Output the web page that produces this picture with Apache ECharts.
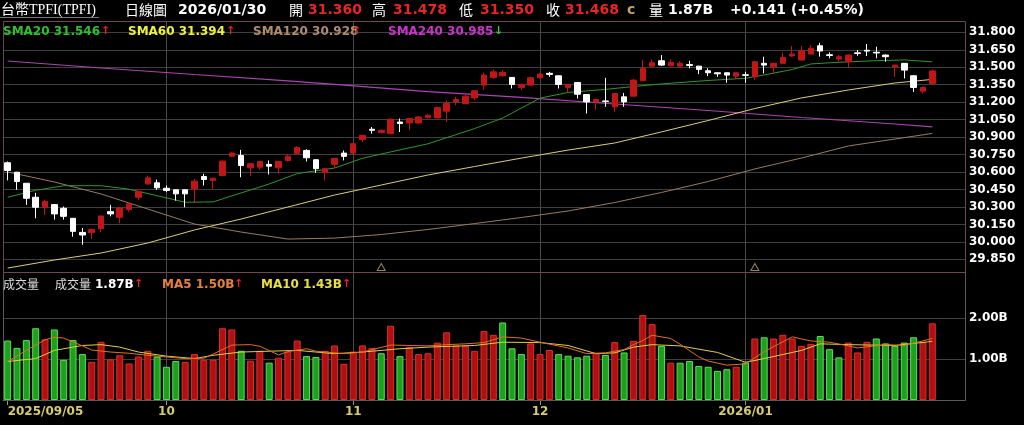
<!DOCTYPE html>
<html><head><meta charset="utf-8">
<script src="https://cdn.jsdelivr.net/npm/echarts@6/dist/echarts.min.js"></script>
<style>html,body{margin:0;padding:0;background:#000;}#c{width:1024px;height:425px;}</style>
</head><body><div id="c"></div>
<script>
const categories = [
'2025/09/05','2025/09/08','2025/09/09','2025/09/10','2025/09/11','2025/09/12','2025/09/15','2025/09/16','2025/09/17','2025/09/18',
'2025/09/19','2025/09/22','2025/09/23','2025/09/24','2025/09/25','2025/09/26','2025/09/30','2025/10/01','2025/10/02','2025/10/03',
'2025/10/07','2025/10/08','2025/10/09','2025/10/13','2025/10/14','2025/10/15','2025/10/16','2025/10/17','2025/10/20','2025/10/21',
'2025/10/22','2025/10/23','2025/10/27','2025/10/28','2025/10/29','2025/10/30','2025/10/31','2025/11/03','2025/11/04','2025/11/05',
'2025/11/06','2025/11/07','2025/11/10','2025/11/11','2025/11/12','2025/11/13','2025/11/14','2025/11/17','2025/11/18','2025/11/19',
'2025/11/20','2025/11/21','2025/11/24','2025/11/25','2025/11/26','2025/11/27','2025/11/28','2025/12/01','2025/12/02','2025/12/03',
'2025/12/04','2025/12/05','2025/12/08','2025/12/09','2025/12/10','2025/12/11','2025/12/12','2025/12/15','2025/12/16','2025/12/17',
'2025/12/18','2025/12/19','2025/12/22','2025/12/23','2025/12/24','2025/12/26','2025/12/29','2025/12/30','2025/12/31','2026/01/02',
'2026/01/05','2026/01/06','2026/01/07','2026/01/08','2026/01/09','2026/01/12','2026/01/13','2026/01/14','2026/01/15','2026/01/16',
'2026/01/19','2026/01/20','2026/01/21','2026/01/22','2026/01/23','2026/01/26','2026/01/27','2026/01/28','2026/01/29','2026/01/30'];

const open = [
30.679,30.598,30.503,30.383,30.297,30.320,30.288,30.202,30.081,30.079,
30.113,30.259,30.211,30.277,30.383,30.498,30.507,30.460,30.447,30.447,
30.455,30.561,30.527,30.570,30.736,30.742,30.636,30.641,30.665,30.636,
30.699,30.760,30.785,30.705,30.598,30.665,30.762,30.762,30.878,30.967,
30.938,30.929,31.029,31.021,31.021,31.067,31.064,31.122,31.202,31.188,
31.236,31.346,31.412,31.426,31.412,31.326,31.346,31.409,31.447,31.426,
31.326,31.369,31.265,31.202,31.210,31.159,31.245,31.251,31.383,31.509,
31.555,31.512,31.509,31.522,31.509,31.469,31.452,31.452,31.423,31.435,
31.417,31.533,31.503,31.533,31.596,31.561,31.613,31.684,31.607,31.570,
31.547,31.623,31.645,31.628,31.604,31.503,31.533,31.426,31.294,31.360];
const close = [
30.613,30.518,30.374,30.297,30.346,30.240,30.219,30.090,30.059,30.107,
30.222,30.240,30.291,30.326,30.434,30.550,30.464,30.441,30.412,30.412,
30.521,30.535,30.547,30.693,30.762,30.656,30.671,30.690,30.650,30.690,
30.736,30.811,30.722,30.628,30.628,30.716,30.734,30.843,30.915,30.958,
30.958,31.053,31.016,31.059,31.072,31.087,31.153,31.188,31.222,31.251,
31.297,31.432,31.460,31.455,31.352,31.352,31.409,31.441,31.438,31.352,
31.352,31.268,31.202,31.222,31.205,31.274,31.202,31.389,31.490,31.538,
31.518,31.541,31.533,31.515,31.481,31.452,31.443,31.432,31.452,31.430,
31.546,31.518,31.533,31.584,31.613,31.641,31.662,31.639,31.600,31.590,
31.604,31.617,31.638,31.622,31.590,31.518,31.475,31.326,31.327,31.468];
const low = [
30.528,30.447,30.317,30.202,30.231,30.191,30.191,30.044,29.975,30.024,
30.081,30.219,30.160,30.259,30.360,30.490,30.447,30.426,30.354,30.297,
30.340,30.484,30.455,30.565,30.730,30.555,30.564,30.619,30.578,30.584,
30.690,30.750,30.690,30.593,30.527,30.636,30.699,30.755,30.857,30.929,
30.930,30.925,30.943,30.958,31.015,31.060,31.060,31.029,31.173,31.180,
31.216,31.303,31.400,31.420,31.317,31.303,31.340,31.405,31.417,31.317,
31.288,31.231,31.102,31.136,31.159,31.116,31.159,31.248,31.380,31.500,
31.510,31.508,31.505,31.490,31.440,31.423,31.417,31.366,31.395,31.366,
31.389,31.446,31.446,31.530,31.590,31.558,31.610,31.590,31.576,31.547,
31.498,31.598,31.596,31.576,31.547,31.417,31.403,31.288,31.274,31.350];
const high = [
30.690,30.600,30.505,30.421,30.360,30.322,30.303,30.204,30.119,30.110,
30.226,30.317,30.298,30.340,30.438,30.570,30.535,30.484,30.450,30.450,
30.541,30.584,30.552,30.700,30.770,30.790,30.675,30.695,30.699,30.695,
30.751,30.820,30.795,30.708,30.635,30.720,30.785,30.850,30.920,30.986,
30.965,31.060,31.059,31.062,31.080,31.100,31.160,31.216,31.245,31.260,
31.300,31.452,31.481,31.475,31.415,31.360,31.420,31.450,31.460,31.430,
31.356,31.372,31.268,31.226,31.409,31.278,31.279,31.400,31.561,31.567,
31.604,31.567,31.550,31.555,31.512,31.490,31.455,31.455,31.455,31.460,
31.550,31.590,31.540,31.624,31.682,31.682,31.690,31.710,31.627,31.604,
31.608,31.647,31.699,31.676,31.610,31.520,31.536,31.430,31.335,31.478];

// volume in billions, and direction (1 = red/up, 0 = green/down)
const volume = [
1.45,1.27,1.46,1.75,1.48,1.72,0.98,1.46,1.12,0.93,
1.42,0.99,1.09,0.89,1.06,1.20,1.06,0.81,0.95,0.93,
1.12,0.98,0.98,1.75,1.72,1.20,0.96,1.20,0.91,1.03,
1.18,1.45,1.07,1.05,1.20,1.33,0.88,1.18,1.33,1.27,
1.14,1.81,1.07,1.29,1.12,1.14,1.40,1.65,1.33,1.33,
1.20,1.68,1.59,1.89,1.26,1.12,1.38,1.12,1.22,1.12,
1.08,1.04,1.08,1.15,1.10,1.41,1.16,1.44,2.07,1.85,
1.32,0.91,0.91,0.95,0.83,0.81,0.71,0.75,0.81,0.91,
1.50,1.53,1.50,1.59,1.50,1.32,1.37,1.56,1.24,1.04,
1.40,1.16,1.42,1.50,1.38,1.32,1.40,1.53,1.41,1.87];
const volUp = [
0,0,0,0,1,0,0,0,0,1, 1,1,1,1,1,1,0,0,0,1, 1,1,1,1,1,0,1,1,0,1, 1,1,0,0,1,1,1,1,1,1,
0,1,0,1,1,1,1,1,1,1, 1,1,1,0,0,0,1,1,1,0, 0,0,0,1,0,1,0,1,1,1, 0,1,0,0,0,0,0,0,1,0,
1,0,1,1,1,1,1,0,0,0, 1,1,1,0,0,0,0,0,1,1];

// moving-average lines at these candle indices
const sma20Idx = [0,3,6,10,13,16,19,22,25,28,31,35,38,41,45,50,53,55,57,60,64,67,70,75,79,81,84,86,89,93,96,99];
const sma20 = [30.383,30.443,30.482,30.482,30.452,30.396,30.340,30.343,30.420,30.497,30.586,30.634,30.718,30.772,30.842,30.973,31.063,31.149,31.234,31.283,31.309,31.334,31.356,31.386,31.405,31.433,31.480,31.528,31.542,31.556,31.562,31.546];
const smaIdx = [0,5,10,15,20,25,30,35,40,45,50,55,60,65,70,75,80,85,90,95,99];
const sma60 = [29.775,29.844,29.904,29.990,30.102,30.196,30.299,30.402,30.488,30.574,30.647,30.719,30.788,30.849,30.944,31.042,31.145,31.236,31.304,31.364,31.395];
const sma120 = [30.600,30.514,30.411,30.282,30.153,30.084,30.024,30.032,30.063,30.106,30.157,30.209,30.265,30.338,30.424,30.518,30.626,30.720,30.823,30.883,30.931];
const sma240Idx = [0,10,20,30,35,45,55,65,75,85,95,99];
const sma240 = [31.553,31.493,31.437,31.382,31.353,31.290,31.240,31.184,31.128,31.068,31.012,30.988];
const vma5Idx = [0,2,4,5,6,8,9,11,13,15,17,19,21,22,24,26,27,29,30,32,33,36,38,41,45,47,49,51,53,55,57,60,62,64,66,67,68,69,71,72,74,75,77,79,81,84,86,88,90,91,94,96,99];
const vma5 = [0.94,1.21,1.47,1.53,1.51,1.32,1.22,1.17,1.14,1.09,1.05,1.01,1.02,1.12,1.34,1.35,1.31,1.10,1.18,1.25,1.19,1.13,1.17,1.34,1.32,1.35,1.37,1.40,1.54,1.51,1.41,1.27,1.13,1.15,1.23,1.35,1.45,1.58,1.50,1.36,1.05,0.95,0.85,0.88,1.18,1.54,1.44,1.41,1.32,1.27,1.35,1.33,1.50];
const vma10Idx = [0,3,5,8,10,12,14,17,20,22,25,28,31,35,38,42,45,50,53,57,60,63,65,67,69,72,76,78,79,81,85,87,90,95,99];
const vma10 = [0.94,1.01,1.21,1.33,1.35,1.29,1.17,1.07,1.01,1.09,1.17,1.19,1.21,1.13,1.17,1.25,1.29,1.33,1.41,1.40,1.33,1.13,1.15,1.29,1.35,1.32,1.16,1.00,0.92,1.01,1.21,1.37,1.35,1.33,1.43];

// x-axis tick labels
const tickIdx = [0,17,37,57,79];
const tickText = ['2025/09/05','10','11','12','2026/01'];
// event triangles at bottom of price panel
const eventIdx = [40,80];

// header / legend texts
const headerVals = ['2026/01/30','31.360','31.478','31.350','31.468','1.87B','+0.141 (+0.45%)'];
const smaLegend = ['SMA20 31.546','SMA60 31.394','SMA120 30.928','SMA240 30.985'];
const volLegend = ['1.87B','MA5 1.50B','MA10 1.43B'];

const N = categories.length;
const xCats = categories.concat(['_p1','_p2','_p3']);
const candleData = categories.map((_, i) => [open[i], close[i], low[i], high[i]]);
function sparse(idx, vals) { const a = new Array(N).fill(null); idx.forEach((k, j) => { a[k] = vals[j]; }); return a; }

const RED = '#c01616', TXTRED = '#e82424';
const GRID = '#3f3f3f';
const isTick = (i) => tickIdx.indexOf(i) >= 0;

const vlines = tickIdx.slice(1).map(i => ({ xAxis: categories[i] }));
const markLineCfg = { silent: true, symbol: ['none','none'], label: { show: false }, animation: false, z: 1,
  lineStyle: { color: '#4a4a4a', type: 'solid', width: 1 }, emphasis: { disabled: true }, data: vlines };

const priceSplit = []; for (let k = 0; k < 16; k++) priceSplit.push(k === 0 || k === 15 ? 'rgba(0,0,0,0)' : GRID);

const CJK = '"Noto Sans CJK TC"';
const DV = '"DejaVu Sans"';
function txt(x, y, t, fill, font) {
  return { type: 'text', x: x, y: y, z: 100, silent: true,
    style: { text: t, fill: fill, font: font, textVerticalAlign: 'middle', verticalAlign: 'middle' } };
}
const hb = 'bold 14px ' + DV, hc = '14px ' + CJK;
const graphics = [
  { type: 'rect', z: 50, silent: true, shape: { x: 3.5, y: 272.5, width: 962, height: 128 }, style: { fill: 'none', stroke: '#5a5a5a', lineWidth: 1 } },
  { type: 'rect', z: 51, silent: true, shape: { x: 3.5, y: 21.5, width: 962, height: 251 }, style: { fill: 'none', stroke: '#6e4656', lineWidth: 1 } },
  { type: 'line', z: 51, silent: true, shape: { x1: 0, y1: 17.5, x2: 99, y2: 17.5 }, style: { stroke: '#777', lineWidth: 1 } },
  txt(1, 10, '台幣TPFI(TPFI)', '#fff', '14px "Liberation Serif",' + CJK),
  txt(125, 10, '日線圖', '#fff', hc),
  txt(178, 10, headerVals[0], '#fff', hb),
  txt(289, 10, '開', '#fff', hc), txt(308, 10, headerVals[1], TXTRED, hb),
  txt(372, 10, '高', '#fff', hc), txt(393, 10, headerVals[2], TXTRED, hb),
  txt(459, 10, '低', '#fff', hc), txt(480, 10, headerVals[3], TXTRED, hb),
  txt(546, 10, '收', '#fff', hc), txt(565, 10, headerVals[4], TXTRED, hb),
  txt(627, 10, 'c', '#c8a070', hb),
  txt(649, 10, '量', '#fff', hc), txt(668, 10, headerVals[5], '#fff', hb),
  txt(730, 10, headerVals[6], '#fff', hb),
  txt(3, 31.5, smaLegend[0], '#2ec02e', 'bold 12px ' + DV), txt(101, 31, '↑', TXTRED, 'bold 11px ' + DV),
  txt(128, 31.5, smaLegend[1], '#f0f03c', 'bold 12px ' + DV), txt(226, 31, '↑', TXTRED, 'bold 11px ' + DV),
  txt(253, 31.5, smaLegend[2], '#b08c6c', 'bold 12px ' + DV), txt(352, 31, '↑', TXTRED, 'bold 11px ' + DV),
  txt(388, 31.5, smaLegend[3], '#cc33cc', 'bold 12px ' + DV), txt(494, 31, '↓', '#30d030', 'bold 11px ' + DV),
  txt(3, 284, '成交量', '#dddddd', '12px ' + CJK),
  txt(55, 284, '成交量', '#dddddd', '12px ' + CJK),
  txt(95, 284.5, volLegend[0], '#ffffff', 'bold 12px ' + DV), txt(134, 284, '↑', TXTRED, 'bold 11px ' + DV),
  txt(162, 284.5, volLegend[1], '#e8803a', 'bold 12px ' + DV), txt(234, 284, '↑', TXTRED, 'bold 11px ' + DV),
  txt(261, 284.5, volLegend[2], '#e8e040', 'bold 12px ' + DV), txt(342, 284, '↑', TXTRED, 'bold 11px ' + DV)
];

const chart = echarts.init(document.getElementById('c'), null, { renderer: 'canvas', width: 1024, height: 425 });
chart.setOption({
  backgroundColor: '#000',
  animation: false,
  graphic: graphics,
  grid: [
    { left: 3, right: 59, top: 22, height: 250 },
    { left: 3, right: 59, top: 272, height: 128 },
    { left: 3, right: 59, top: 14.84, height: 261.92 }
  ],
  xAxis: [
    { type: 'category', gridIndex: 0, data: xCats, boundaryGap: true, show: false },
    { type: 'category', gridIndex: 1, data: xCats, boundaryGap: true,
      axisLine: { show: true, lineStyle: { color: '#6a6a6a' } },
      axisTick: { show: true, alignWithLabel: true, interval: (i) => isTick(i), length: 5, lineStyle: { color: '#a09870' } },
      axisLabel: { show: true, interval: (i) => isTick(i), formatter: (v, i) => tickText[tickIdx.indexOf(i)] || '',
        color: '#d8cc6a', fontWeight: 'bold', fontSize: 12, fontFamily: 'DejaVu Sans', margin: 6, alignMinLabel: 'left' },
      splitLine: { show: false } },
    { type: 'value', gridIndex: 2, min: 0, max: 1, show: false }
  ],
  yAxis: [
    { type: 'value', gridIndex: 0, min: 29.741, max: 31.888, show: false },
    { type: 'value', gridIndex: 1, position: 'right', min: 0, max: 3.122, interval: 1,
      axisLine: { show: false }, axisTick: { show: false },
      axisLabel: { color: '#fff', fontWeight: 'bold', fontSize: 12, fontFamily: 'DejaVu Sans', margin: 4,
        formatter: (v) => (Math.abs(v - 1) < 1e-6 || Math.abs(v - 2) < 1e-6) ? v.toFixed(2) + 'B' : '' },
      splitLine: { show: true, lineStyle: { color: ['rgba(0,0,0,0)', GRID, GRID, 'rgba(0,0,0,0)', 'rgba(0,0,0,0)'] } } },
    { type: 'value', gridIndex: 2, position: 'right', min: 29.7, max: 31.95, interval: 0.15,
      axisLine: { show: false }, axisTick: { show: false },
      axisLabel: { color: '#fff', fontWeight: 'bold', fontSize: 12, fontFamily: 'DejaVu Sans', margin: 4,
        formatter: (v) => (v < 29.8 || v > 31.85) ? '' : v.toFixed(3) },
      splitLine: { show: true, lineStyle: { color: priceSplit, width: 1 } } }
  ],
  series: [
    { type: 'line', name: 'SMA240', xAxisIndex: 0, yAxisIndex: 0, data: sparse(sma240Idx, sma240), connectNulls: true,
      showSymbol: false, lineStyle: { color: '#b040b8', width: 1.2 }, z: 3, markLine: markLineCfg },
    { type: 'line', name: 'SMA120', xAxisIndex: 0, yAxisIndex: 0, data: sparse(smaIdx, sma120), connectNulls: true,
      showSymbol: false, lineStyle: { color: '#9a7a60', width: 1 }, z: 3 },
    { type: 'line', name: 'SMA60', xAxisIndex: 0, yAxisIndex: 0, data: sparse(smaIdx, sma60), connectNulls: true,
      showSymbol: false, lineStyle: { color: '#d8d070', width: 1 }, z: 3 },
    { type: 'line', name: 'SMA20', xAxisIndex: 0, yAxisIndex: 0, data: sparse(sma20Idx, sma20), connectNulls: true,
      showSymbol: false, lineStyle: { color: '#2a9a2a', width: 1 }, z: 3 },
    { type: 'candlestick', xAxisIndex: 0, yAxisIndex: 0, data: candleData, barWidth: 6, z: 5,
      itemStyle: { color: RED, color0: '#ffffff', borderColor: RED, borderColor0: '#ffffff', borderWidth: 1 } },
    { type: 'scatter', xAxisIndex: 0, yAxisIndex: 0, data: eventIdx.map(i => [categories[i], 29.784]),
      symbol: 'triangle', symbolSize: [8, 7], z: 6,
      itemStyle: { color: 'rgba(0,0,0,0)', borderColor: '#b8a070', borderWidth: 1 } },
    { type: 'bar', xAxisIndex: 1, yAxisIndex: 1, barWidth: 7, z: 3, markLine: markLineCfg,
      data: volume.map((v, i) => ({ value: v, itemStyle: volUp[i]
        ? { color: '#b0100f', borderColor: '#d83030', borderWidth: 1 }
        : { color: '#1ea01e', borderColor: '#58e058', borderWidth: 1 } })) },
    { type: 'line', xAxisIndex: 1, yAxisIndex: 1, data: sparse(vma10Idx, vma10), connectNulls: true,
      showSymbol: false, lineStyle: { color: '#e0d040', width: 1 }, z: 4 },
    { type: 'line', xAxisIndex: 1, yAxisIndex: 1, data: sparse(vma5Idx, vma5), connectNulls: true,
      showSymbol: false, lineStyle: { color: '#e07020', width: 1 }, z: 4 }
  ]
});
</script>
</body></html>
